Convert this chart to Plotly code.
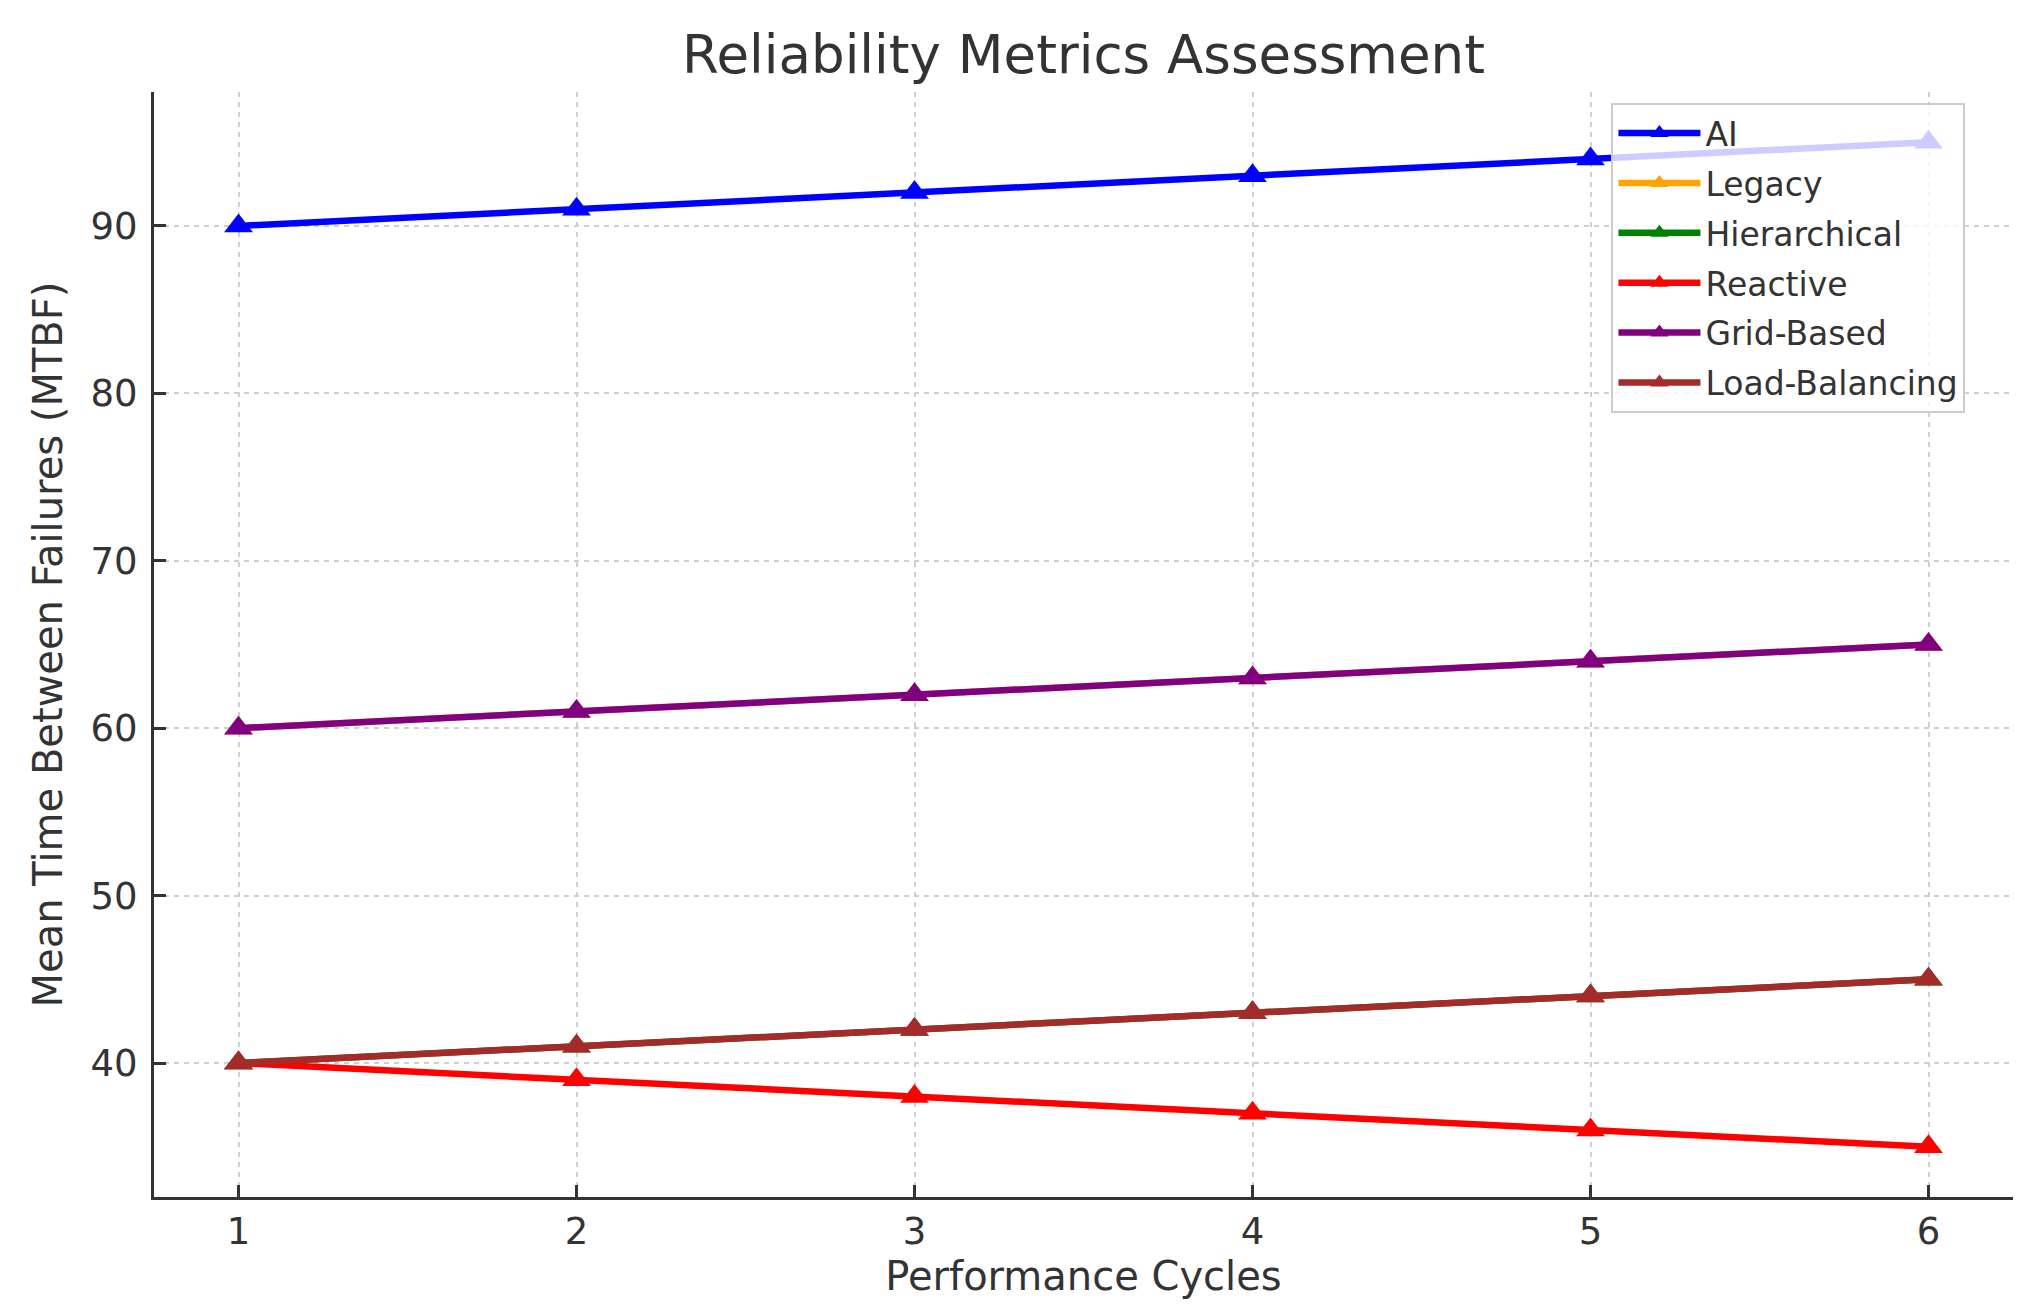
import plotly.graph_objects as go

cycles = [1, 2, 3, 4, 5, 6]
series_names = ["AI", "Legacy", "Hierarchical", "Reactive", "Grid-Based", "Load-Balancing"]
ai = [90, 91, 92, 93, 94, 95]
legacy = [60, 61, 62, 63, 64, 65]
hierarchical = [40, 41, 42, 43, 44, 45]
reactive = [40, 39, 38, 37, 36, 35]
grid_based = [60, 61, 62, 63, 64, 65]
load_balancing = [40, 41, 42, 43, 44, 45]
colors = ["#0000ff", "#ffa500", "#008000", "#ff0000", "#800080", "#a52a2a"]

values = [ai, legacy, hierarchical, reactive, grid_based, load_balancing]

fig = go.Figure()
for name, vals, col in zip(series_names, values, colors):
    fig.add_trace(go.Scatter(
        x=cycles, y=vals, name=name, mode="lines+markers", legendgroup=name,
        line=dict(color=col, width=6.5),
        marker=dict(symbol="triangle-up", size=25, color=col),
    ))

font_family = "DejaVu Sans"
text_col = "#333333"

fig.update_layout(
    width=2021, height=1306,
    margin=dict(l=146, r=16, t=84, b=117),
    paper_bgcolor="white", plot_bgcolor="white",
    font=dict(family=font_family, color=text_col, size=36),
    title=dict(text="Reliability Metrics Assessment", x=0.5, xref="paper",
               xanchor="center", y=1 - 46 / 1306, yref="container", yanchor="middle",
               font=dict(size=53, family=font_family, color=text_col)),
    legend=dict(x=0.784, y=0.99, xanchor="left", yanchor="top",
                bgcolor="rgba(255,255,255,0.8)", bordercolor="#cccccc", borderwidth=2,
                font=dict(size=33, family=font_family, color=text_col),
                itemwidth=82, tracegroupgap=4),
    showlegend=True,
)

fig.update_xaxes(
    range=[0.75, 6.25], tickvals=cycles, ticktext=[str(c) for c in cycles],
    showline=True, linecolor="#333333", linewidth=3, mirror=False,
    ticks="inside", ticklen=12, tickwidth=3, tickcolor="#333333",
    showgrid=True, gridcolor="#cfcfcf", gridwidth=2, griddash="5px,5px",
    zeroline=False, tickfont=dict(size=37),
    ticklabelstandoff=0,
    title=dict(text="Performance Cycles", font=dict(size=40), standoff=10),
)
fig.update_yaxes(
    range=[32, 98], tickvals=[40, 50, 60, 70, 80, 90],
    showline=True, linecolor="#333333", linewidth=3, mirror=False,
    ticks="inside", ticklen=12, tickwidth=3, tickcolor="#333333",
    showgrid=True, gridcolor="#cfcfcf", gridwidth=2, griddash="5px,5px",
    zeroline=False, tickfont=dict(size=37),
    ticklabelstandoff=6,
    title=dict(text="Mean Time Between Failures (MTBF)", font=dict(size=40), standoff=16),
)

fig.write_html("out.html")
